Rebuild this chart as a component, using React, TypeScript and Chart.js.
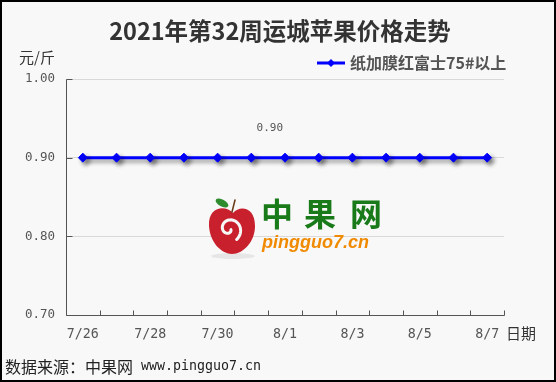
import React, { useEffect, useRef } from "react";
import { Chart, registerables } from "chart.js";

Chart.register(...registerables);

const categories = ["7/26", "7/27", "7/28", "7/29", "7/30", "7/31", "8/1", "8/2", "8/3", "8/4", "8/5", "8/6", "8/7"];
const prices = [0.9, 0.9, 0.9, 0.9, 0.9, 0.9, 0.9, 0.9, 0.9, 0.9, 0.9, 0.9, 0.9];
const seriesName = "纸加膜红富士75#以上";
const titleText = "2021年第32周运城苹果价格走势";
const unitText = "元/斤";
const xAxisTitle = "日期";
const sourceCn = "数据来源：中果网";
const sourceUrl = " www.pingguo7.cn";
const labeledIndex = 6;
const yMin = 0.7;
const yMax = 1.0;
const yStep = 0.1;

const MONO = "'DejaVu Sans Mono', 'Liberation Mono', monospace";
const CJK = "'Noto Sans CJK SC', 'Noto Sans', sans-serif";
const BLUE = "#0000ff";

const overlay = {
  id: "overlay",
  beforeDraw(chart: any) {
    const ctx = chart.ctx;
    ctx.save();
    ctx.fillStyle = "#f8f8f8";
    ctx.fillRect(0, 0, chart.width, chart.height);
    ctx.restore();
  },
  beforeDatasetsDraw(chart: any) {
    const ctx = chart.ctx;
    ctx.save();
    ctx.shadowColor = "rgba(0,0,0,0.45)";
    ctx.shadowBlur = 4;
    ctx.shadowOffsetX = 3;
    ctx.shadowOffsetY = 3;
  },
  afterDatasetsDraw(chart: any) {
    chart.ctx.restore();
  },
  afterDraw(chart: any) {
    const ctx = chart.ctx;
    const xs = chart.scales.x;
    const ys = chart.scales.y;
    const area = chart.chartArea;
    ctx.save();

    // crisp axis lines and inner tick marks
    const ax = Math.round(area.left) + 0.5;
    const ay = Math.round(area.bottom) + 0.5;
    ctx.strokeStyle = "#555";
    ctx.lineWidth = 1;
    ctx.beginPath();
    ctx.moveTo(ax, Math.round(area.top) + 0.5);
    ctx.lineTo(ax, ay);
    ctx.lineTo(Math.round(area.right) + 0.5, ay);
    for (let i = 1; i <= categories.length; i++) {
      const px = Math.round(xs.getPixelForValue(i - 0.5)) + 0.5;
      ctx.moveTo(px, ay);
      ctx.lineTo(px, ay - 5);
    }
    ys.ticks.forEach((t: any) => {
      const py = Math.round(ys.getPixelForValue(t.value)) + 0.5;
      ctx.moveTo(ax, py);
      ctx.lineTo(ax + 6, py);
    });
    ctx.stroke();

    // title
    ctx.fillStyle = "#333";
    ctx.textAlign = "center";
    ctx.textBaseline = "middle";
    ctx.font = `bold 23.5px ${CJK}`;
    ctx.fillText(titleText, 280, 31);

    // unit
    ctx.textAlign = "left";
    ctx.font = `15px ${CJK}`;
    ctx.fillText(unitText, 19, 57);

    // legend
    ctx.strokeStyle = BLUE;
    ctx.lineWidth = 3;
    ctx.beginPath();
    ctx.moveTo(317, 63);
    ctx.lineTo(345, 63);
    ctx.stroke();
    ctx.fillStyle = BLUE;
    ctx.beginPath();
    ctx.moveTo(331, 59);
    ctx.lineTo(335, 63);
    ctx.lineTo(331, 67);
    ctx.lineTo(327, 63);
    ctx.closePath();
    ctx.fill();
    ctx.fillStyle = "#555";
    ctx.font = `bold 16px ${CJK}`;
    ctx.fillText(seriesName, 350, 63);

    // x-axis title
    ctx.fillStyle = "#333";
    ctx.font = `15px ${CJK}`;
    ctx.fillText(xAxisTitle, 506, 333);

    // footer
    ctx.fillStyle = "#222";
    ctx.font = `16px ${CJK}`;
    ctx.fillText(sourceCn, 5, 367);
    const w = ctx.measureText(sourceCn).width;
    ctx.font = `13.3px ${MONO}`;
    ctx.fillText(sourceUrl, 5 + w, 367);

    // data label
    const meta = chart.getDatasetMeta(0);
    const pt = meta.data[labeledIndex];
    if (pt) {
      ctx.fillStyle = "#555";
      ctx.font = `11px ${MONO}`;
      ctx.textAlign = "right";
      ctx.fillText(prices[labeledIndex].toFixed(2), pt.x - 2, pt.y - 30);
    }

    // watermark logo
    ctx.fillStyle = "rgba(0,0,0,0.07)";
    ctx.beginPath();
    ctx.ellipse(233, 256, 22, 3, 0, 0, Math.PI * 2);
    ctx.fill();
    ctx.fillStyle = "#c8202c";
    ctx.beginPath();
    ctx.moveTo(233, 213);
    ctx.bezierCurveTo(226, 205, 208, 206, 209, 226);
    ctx.bezierCurveTo(210, 243, 222, 254, 232, 254);
    ctx.bezierCurveTo(243, 254, 255, 242, 255, 226);
    ctx.bezierCurveTo(255, 207, 240, 205, 233, 213);
    ctx.fill();
    ctx.strokeStyle = "#f8f8f8";
    ctx.lineWidth = 3;
    ctx.lineCap = "round";
    ctx.beginPath();
    for (let k = 0; k <= 60; k++) {
      const t = k / 60;
      const ang = Math.PI * 0.1 + t * Math.PI * 2.2;
      const r = 2 + t * 11;
      const px = 229 + r * Math.cos(ang);
      const py = 229 + r * Math.sin(ang);
      if (k === 0) ctx.moveTo(px, py);
      else ctx.lineTo(px, py);
    }
    ctx.stroke();
    ctx.fillStyle = "#2e8b2e";
    ctx.beginPath();
    ctx.ellipse(222, 203, 7, 3.5, 0.5, 0, Math.PI * 2);
    ctx.fill();
    ctx.strokeStyle = "#6b3a1a";
    ctx.lineWidth = 1.5;
    ctx.beginPath();
    ctx.moveTo(232, 212);
    ctx.lineTo(235, 200);
    ctx.stroke();

    ctx.fillStyle = "#187a18";
    ctx.font = `bold 32px ${CJK}`;
    ctx.textAlign = "center";
    ctx.textBaseline = "middle";
    ctx.fillText("中", 277, 214);
    ctx.fillText("果", 320, 214);
    ctx.fillText("网", 366, 214);
    ctx.fillStyle = "#f08a00";
    ctx.font = `italic bold 18px 'Liberation Sans', Arial, sans-serif`;
    ctx.textAlign = "left";
    ctx.fillText("pingguo7.cn", 262, 243);

    // outer border
    ctx.strokeStyle = "#000";
    ctx.lineWidth = 2;
    ctx.strokeRect(1, 1, chart.width - 2, chart.height - 2);
    ctx.restore();
  },
};

export default function App() {
  const ref = useRef<HTMLCanvasElement | null>(null);
  useEffect(() => {
    document.body.style.margin = "0";
    if (!ref.current) return;
    const chart = new Chart(ref.current, {
      type: "line",
      data: {
        labels: categories,
        datasets: [
          {
            label: seriesName,
            data: prices,
            borderColor: BLUE,
            backgroundColor: BLUE,
            borderWidth: 3,
            pointStyle: "rectRot",
            pointRadius: 4.5,
            pointBackgroundColor: BLUE,
            pointBorderColor: BLUE,
            pointBorderWidth: 1,
            tension: 0,
          },
        ],
      },
      options: {
        animation: false,
        responsive: false,
        devicePixelRatio: 1,
        layout: { padding: { left: 0, top: 79, right: 52, bottom: 0 } },
        plugins: {
          legend: { display: false },
          title: { display: false },
          tooltip: { enabled: false },
        },
        scales: {
          x: {
            type: "category",
            offset: true,
            grid: { display: false, drawTicks: false },
            border: { display: false },
            ticks: {
              autoSkip: false,
              maxRotation: 0,
              padding: 12,
              color: "#555",
              font: { family: MONO, size: 13.3 },
              callback: (_v: any, i: number) => (i % 2 === 0 ? categories[i] : ""),
            },
            afterFit: (s: any) => {
              s.height = 67;
            },
          },
          y: {
            min: yMin,
            max: yMax,
            grid: { color: "#d9d9d9", drawTicks: false, lineWidth: 1 },
            border: { display: false },
            ticks: {
              stepSize: yStep,
              padding: 11,
              color: "#555",
              font: { family: MONO, size: 12.5 },
              callback: (v: any) => Number(v).toFixed(2),
            },
            afterFit: (s: any) => {
              s.width = 66;
            },
          },
        },
      },
      plugins: [overlay],
    });
    return () => chart.destroy();
  }, []);
  return (
    <div style={{ width: 556, height: 382 }}>
      <canvas ref={ref} width={556} height={382} style={{ display: "block", width: 556, height: 382 }} />
    </div>
  );
}
